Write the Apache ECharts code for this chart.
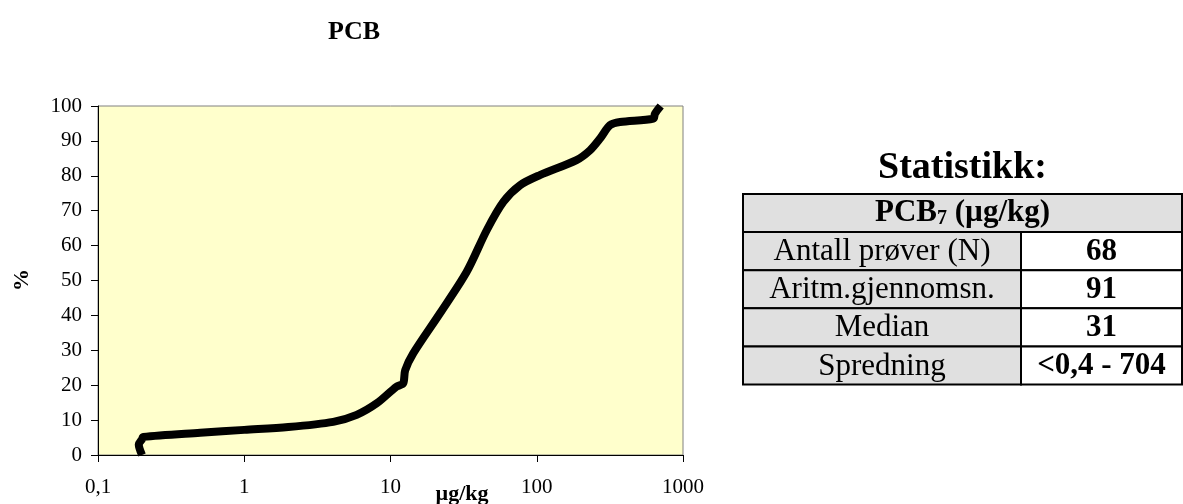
<!DOCTYPE html>
<html>
<head>
<meta charset="utf-8">
<title>PCB</title>
<script src="https://cdn.jsdelivr.net/npm/echarts@6/dist/echarts.min.js"></script>
<style>
  html, body { margin: 0; padding: 0; background: #ffffff; }
  #chart { width: 1183px; height: 504px; }
</style>
</head>
<body>
<div id="chart"></div>
<script>
// Cumulative distribution of PCB7 concentrations (µg/kg) vs. percentage of samples
const concentration = [0.2, 0.19, 0.2, 0.204, 0.5, 1.0, 2.0, 4.06, 5.87, 8.05, 11.0, 12.2, 12.6, 14.3, 21.8, 33.2, 45.5, 59.1, 76.9, 105, 187, 231, 271, 317, 371, 627, 643, 704];
const percent = [0, 3, 4.5, 5.2, 6.4, 7.2, 8.0, 9.5, 11.5, 14.8, 19.6, 20.5, 24.3, 29.1, 40.6, 52.5, 64.4, 72.5, 77.3, 80.2, 84.5, 87.3, 90.7, 94.5, 95.4, 96.4, 97.8, 100];

// Summary statistics table
const statTitle = 'Statistikk:';
const statLabels = ['Antall prøver (N)', 'Aritm.gjennomsn.', 'Median', 'Spredning'];
const statValues = ['68', '91', '31', '<0,4 - 704'];

const serif = '"Liberation Serif", "Times New Roman", serif';

const points = concentration.map((c, i) => [c, percent[i]]);

// Table geometry
const tblLeft = 743, tblRight = 1182, tblMid = 1021, tblTop = 194, rowH = 38.1;

const graphics = [];

// Chart title and axis names
graphics.push({
  type: 'text', x: 354, y: 32,
  style: { text: 'PCB', font: 'bold 26px ' + serif, fill: '#000', align: 'center', verticalAlign: 'middle' }
});
graphics.push({
  type: 'text', x: 22, y: 280, rotation: Math.PI / 2,
  style: { text: '%', font: 'bold 22px ' + serif, fill: '#000', align: 'center', verticalAlign: 'middle' }
});
graphics.push({
  type: 'text', x: 462, y: 494,
  style: { text: 'µg/kg', font: 'bold 22px ' + serif, fill: '#000', align: 'center', verticalAlign: 'middle' }
});

// Table title
graphics.push({
  type: 'text', x: (tblLeft + tblRight) / 2, y: 168,
  style: { text: statTitle, font: 'bold 38px ' + serif, fill: '#000', align: 'center', verticalAlign: 'middle' }
});

// Header row
graphics.push({
  type: 'rect',
  shape: { x: tblLeft, y: tblTop, width: tblRight - tblLeft, height: rowH },
  style: { fill: '#e0e0e0', stroke: '#000', lineWidth: 2 }
});
graphics.push({
  type: 'text', x: (tblLeft + tblRight) / 2, y: tblTop + rowH / 2,
  style: {
    text: '{b|PCB}{s|7}{b| (µg/kg)}',
    align: 'center', verticalAlign: 'middle',
    rich: {
      b: { font: 'bold 31px ' + serif, fill: '#000' },
      s: { font: 'bold 20px ' + serif, fill: '#000', padding: [12, 0, 0, 0] }
    }
  }
});

// Body rows
statLabels.forEach((label, i) => {
  const y = tblTop + rowH * (i + 1);
  graphics.push({
    type: 'rect',
    shape: { x: tblLeft, y: y, width: tblMid - tblLeft, height: rowH },
    style: { fill: '#e0e0e0', stroke: '#000', lineWidth: 2 }
  });
  graphics.push({
    type: 'rect',
    shape: { x: tblMid, y: y, width: tblRight - tblMid, height: rowH },
    style: { fill: '#ffffff', stroke: '#000', lineWidth: 2 }
  });
  graphics.push({
    type: 'text', x: (tblLeft + tblMid) / 2, y: y + rowH / 2 + 1,
    style: { text: label, font: '31px ' + serif, fill: '#000', align: 'center', verticalAlign: 'middle' }
  });
  graphics.push({
    type: 'text', x: (tblMid + tblRight) / 2, y: y + rowH / 2 + 1,
    style: { text: statValues[i], font: 'bold 31px ' + serif, fill: '#000', align: 'center', verticalAlign: 'middle' }
  });
});

const chart = echarts.init(document.getElementById('chart'), null, { renderer: 'canvas' });

chart.setOption({
  animation: false,
  backgroundColor: '#ffffff',
  grid: {
    left: 98, right: 500, top: 106, bottom: 49,
    show: true, backgroundColor: '#ffffcc', borderColor: '#808080', borderWidth: 1,
    containLabel: false
  },
  xAxis: {
    type: 'log', logBase: 10, min: 0.1, max: 1000,
    axisLine: { show: true, lineStyle: { color: '#000', width: 1 } },
    axisTick: { show: true, length: 7, lineStyle: { color: '#000' } },
    minorTick: { show: false },
    splitLine: { show: false },
    axisLabel: {
      margin: 22, color: '#000', fontFamily: serif, fontSize: 21,
      formatter: v => String(Number(v.toPrecision(6))).replace('.', ',')
    }
  },
  yAxis: {
    type: 'value', min: 0, max: 100, interval: 10,
    axisLine: { show: true, lineStyle: { color: '#000', width: 1 } },
    axisTick: { show: true, length: 7, lineStyle: { color: '#000' } },
    splitLine: { show: false },
    axisLabel: { margin: 16, color: '#000', fontFamily: serif, fontSize: 21 }
  },
  series: [{
    type: 'line',
    data: points,
    smooth: 0.3,
    showSymbol: false,
    symbol: 'none',
    clip: false,
    lineStyle: { color: '#000', width: 8, join: 'round' }
  }],
  graphic: graphics
});
</script>
</body>
</html>
